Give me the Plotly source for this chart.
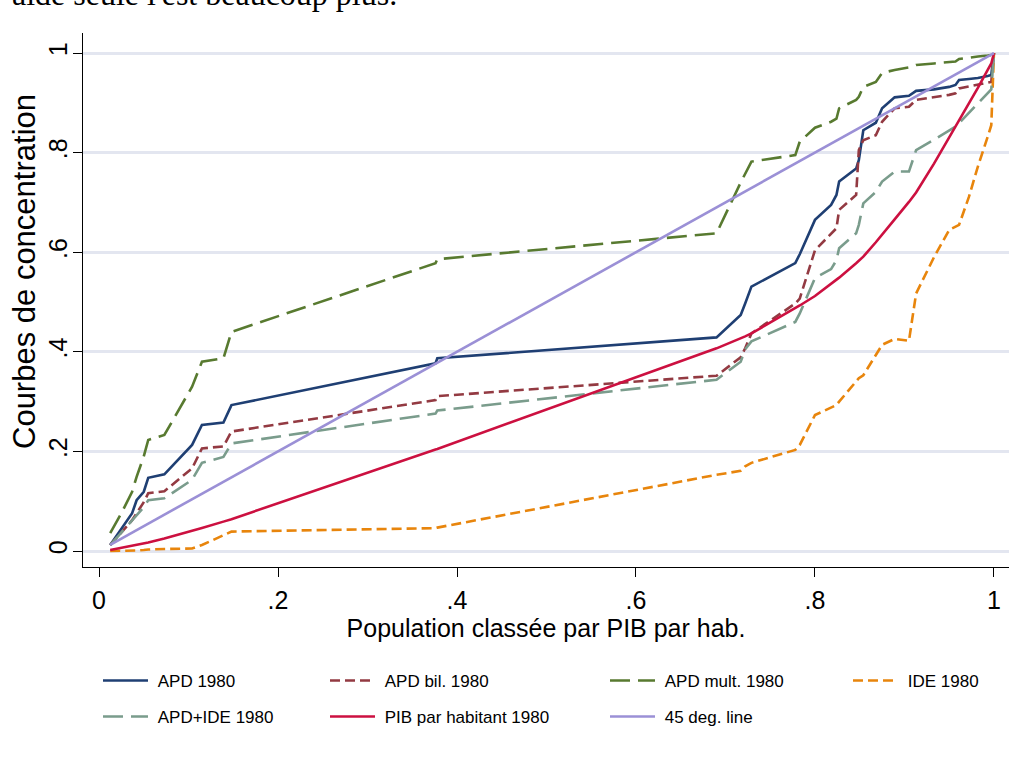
import plotly.graph_objects as go

# Cumulative population share, countries ranked by GDP per capita
pop_share = [0.0125, 0.025, 0.037, 0.042, 0.050, 0.055, 0.073, 0.104, 0.115, 0.139,
             0.148, 0.376, 0.378, 0.690, 0.717, 0.722, 0.729, 0.778, 0.783, 0.800,
             0.818, 0.824, 0.827, 0.846, 0.849, 0.854, 0.868, 0.875, 0.889, 0.905,
             0.913, 0.933, 0.950, 0.957, 0.961, 0.972, 0.982, 0.993, 0.997, 1.0]

# Concentration curves (cumulative share of each flow)
apd_1980 = [0.012, 0.046, 0.076, 0.102, 0.119, 0.147, 0.154, 0.213, 0.253, 0.258,
            0.293, 0.377, 0.387, 0.429, 0.474, 0.497, 0.531, 0.578, 0.596, 0.665,
            0.695, 0.715, 0.742, 0.768, 0.785, 0.845, 0.860, 0.889, 0.911, 0.914,
            0.924, 0.927, 0.932, 0.936, 0.946, 0.948, 0.950, 0.954, 0.956, 1.0]
apd_bil_1980 = [0.012, 0.038, 0.062, 0.076, 0.098, 0.116, 0.120, 0.166, 0.206, 0.210,
                0.240, 0.303, 0.311, 0.352, 0.389, 0.407, 0.437, 0.497, 0.507, 0.604,
                0.638, 0.648, 0.685, 0.715, 0.805, 0.825, 0.835, 0.862, 0.889, 0.892,
                0.906, 0.911, 0.916, 0.919, 0.929, 0.933, 0.936, 0.940, 0.942, 1.0]
apd_mult_1980 = [0.036, 0.076, 0.119, 0.149, 0.190, 0.223, 0.233, 0.330, 0.380, 0.387,
                 0.440, 0.578, 0.586, 0.638, 0.740, 0.758, 0.782, 0.795, 0.822, 0.850,
                 0.862, 0.868, 0.889, 0.906, 0.912, 0.932, 0.942, 0.960, 0.966, 0.971,
                 0.976, 0.979, 0.982, 0.983, 0.988, 0.991, 0.993, 0.995, 0.996, 1.0]
ide_1980 = [0.000, 0.000, 0.001, 0.001, 0.002, 0.003, 0.004, 0.005, 0.012, 0.031,
            0.039, 0.046, 0.047, 0.153, 0.161, 0.170, 0.177, 0.203, 0.213, 0.273,
            0.288, 0.293, 0.300, 0.340, 0.347, 0.353, 0.394, 0.414, 0.426, 0.422,
            0.517, 0.590, 0.645, 0.652, 0.655, 0.711, 0.772, 0.832, 0.855, 1.0]
apd_ide_1980 = [0.012, 0.037, 0.060, 0.072, 0.088, 0.102, 0.106, 0.143, 0.177, 0.189,
                0.216, 0.276, 0.282, 0.344, 0.380, 0.405, 0.421, 0.460, 0.477, 0.548,
                0.566, 0.584, 0.608, 0.638, 0.655, 0.698, 0.721, 0.742, 0.762, 0.762,
                0.805, 0.826, 0.845, 0.852, 0.859, 0.880, 0.898, 0.919, 0.927, 1.0]
pib_hab_1980 = [0.002, 0.006, 0.010, 0.012, 0.015, 0.017, 0.025, 0.040, 0.046, 0.059,
                0.064, 0.204, 0.205, 0.407, 0.426, 0.431, 0.437, 0.487, 0.493, 0.512,
                0.536, 0.545, 0.549, 0.578, 0.583, 0.591, 0.620, 0.636, 0.666, 0.701,
                0.720, 0.778, 0.830, 0.852, 0.864, 0.898, 0.930, 0.966, 0.979, 1.0]
line_45 = [0.0125, 1.0]

x_ticks = [0, 0.2, 0.4, 0.6, 0.8, 1]
x_ticktext = ["0", ".2", ".4", ".6", ".8", "1"]
y_ticks = [0, 0.2, 0.4, 0.6, 0.8, 1]
y_ticktext = ["0", ".2", ".4", ".6", ".8", "1"]

FONT = "Liberation Sans, Arial, Helvetica, sans-serif"

series = [
    ("APD 1980", pop_share, apd_1980, "#1f3f73", "solid", "legend"),
    ("APD bil. 1980", pop_share, apd_bil_1980, "#933a42", "10px,5px", "legend3"),
    ("APD mult. 1980", pop_share, apd_mult_1980, "#587a30", "20px,8px", "legend5"),
    ("IDE 1980", pop_share, ide_1980, "#e8850c", "10px,5px", "legend7"),
    ("APD+IDE 1980", pop_share, apd_ide_1980, "#7a9c8c", "20px,8px", "legend2"),
    ("PIB par habitant 1980", pop_share, pib_hab_1980, "#cc1040", "solid", "legend4"),
    ("45 deg. line", line_45, line_45, "#9b90d6", "solid", "legend6"),
]

fig = go.Figure()
for name, xs, ys, color, dash, leg in series:
    fig.add_trace(go.Scatter(
        x=xs, y=ys, mode="lines", name="\u00a0" + name, legend=leg,
        line=dict(color=color, width=2.6, dash=dash),
    ))

# plot area: x 83..1009 px, y 33..567 px
L, R, T, B = 83, 1009, 33, 567
W, H = R - L, B - T

def px_x(px):
    return (px - L) / W

def px_y(py):
    return (B - py) / H

legend_pos = {
    "legend": (98, 681), "legend2": (98, 717),
    "legend3": (325, 681), "legend4": (325, 717),
    "legend5": (605, 681), "legend6": (605, 717),
    "legend7": (848, 681),
}
legend_layout = {}
for key, (lx, ly) in legend_pos.items():
    legend_layout[key] = dict(
        x=px_x(lx), y=px_y(ly), xanchor="left", yanchor="middle",
        bgcolor="rgba(0,0,0,0)", borderwidth=0,
        font=dict(family=FONT, size=17, color="#000000"),
        itemwidth=45,
    )

fig.update_layout(
    width=1015, height=769,
    margin=dict(l=L, r=1015 - R, t=T, b=769 - B),
    paper_bgcolor="white", plot_bgcolor="white",
    font=dict(family=FONT, size=25, color="#000000"),
    showlegend=True,
    **legend_layout,
    xaxis=dict(
        range=[-0.0179, 1.0168], showgrid=False, zeroline=False,
        showline=True, linecolor="#000000", linewidth=1.2,
        ticks="outside", ticklen=9, tickwidth=1, tickcolor="#000000",
        tickvals=x_ticks, ticktext=x_ticktext,
        tickfont=dict(family=FONT, size=25), ticklabelstandoff=2,
        title=dict(text="Population classée par PIB par hab.",
                   font=dict(family=FONT, size=25), standoff=0),
    ),
    yaxis=dict(
        range=[-0.0321, 1.0402], showgrid=True, gridcolor="#e3e6f0", gridwidth=3,
        zeroline=False,
        showline=True, linecolor="#000000", linewidth=1.2,
        ticks="outside", ticklen=9, tickwidth=1, tickcolor="#000000",
        tickvals=y_ticks, ticktext=y_ticktext, tickangle=-90,
        tickfont=dict(family=FONT, size=25), ticklabelstandoff=-4,
    ),
)

# y axis title, placed a little above the plot-area centre
fig.add_annotation(
    text="Courbes de concentration",
    xref="paper", yref="paper", x=px_x(24), y=px_y(272),
    xanchor="center", yanchor="middle", textangle=-90, showarrow=False,
    font=dict(family=FONT, size=31, color="#000000"),
)

# line of running text above the figure, partly cut by the page edge
fig.add_annotation(
    text="aide seule l'est beaucoup plus.",
    xref="paper", yref="paper", x=px_x(10), y=px_y(14),
    xanchor="left", yanchor="bottom", showarrow=False,
    font=dict(family="Liberation Serif, Times New Roman, serif", size=32, color="#000000"),
)

fig.write_html("out.html")
